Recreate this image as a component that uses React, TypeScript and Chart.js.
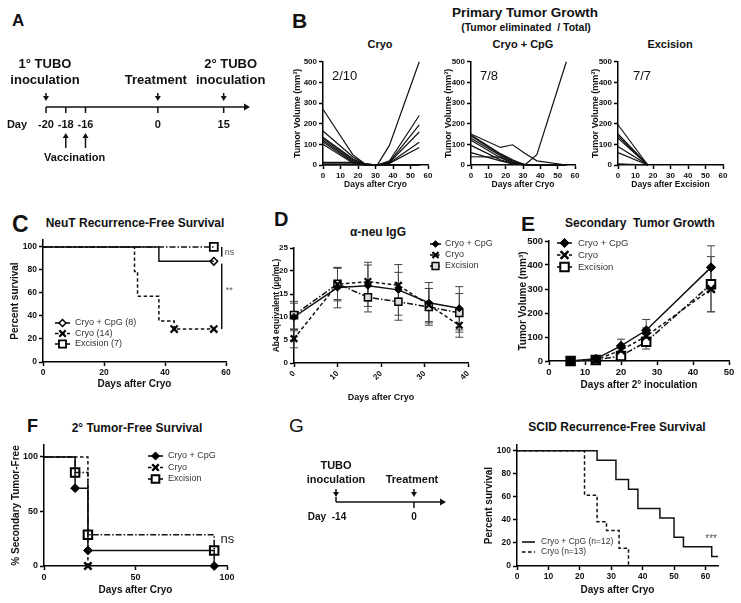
import React, { useEffect, useRef } from 'react';
import { Chart, registerables } from 'chart.js';
Chart.register(...registerables);

const FONT = '"Liberation Sans", Arial, Helvetica, sans-serif';
Chart.defaults.font.family = FONT;
Chart.defaults.color = '#111';

// ================= DATA =================
// A: schematic timeline (category axis, blank slots keep the schematic spacing)
const A_AXIS_LABELS = ['-20', '', '', '-18', '', '', '-16', '', '', '', '', '', '', '', '', '', '', '0', '', '', '', '', '', '', '', '', '', '15', '', '', '', ''];
const A_INOC_DAYS = ['-20', '15'];
const A_INOC_TEXT = [['1° TUBO', 'inoculation'], ['2° TUBO', 'inoculation']];
const A_TREAT_DAY = '0';
const A_VACC_DAYS = ['-18', '-16'];

// B: primary tumor growth (individual mice)
const B_DAYS = [0, 17, 24, 31, 38, 55];
const B_CRYO = [
  [270, 50, 5, 0, 20, 240],
  [165, 40, 5, 0, 96, 500],
  [135, 30, 5, 0, 15, 195],
  [128, 25, 3, 0, 12, 160],
  [120, 20, 2, 0, 10, 110],
  [112, 15, 0, 0, 8, 85],
  [100, 10, 0, 0, 0, 0],
  [13, 13, 0, 0, 0, 0],
  [5, 5, 0, 0, 0, 0],
  [0, 0, 0, 0, 0, 0],
];
const B_CPG = [
  [150, 85, 98, 57, 20, 0],
  [145, 55, 25, 0, 50, 500],
  [140, 50, 20, 3, 0, 0],
  [130, 45, 15, 2, 0, 0],
  [120, 35, 10, 0, 0, 0],
  [95, 25, 8, 0, 0, 0],
  [60, 20, 5, 0, 0, 0],
  [40, 38, 10, 0, 0, 0],
];
const B_EXC_DAYS = [0, 17];
const B_EXC = [[195, 0], [150, 0], [140, 0], [130, 0], [90, 0], [60, 0], [5, 0]];
const B_TITLES = ['Cryo', 'Cryo + CpG', 'Excision'];
const B_RATIOS = ['2/10', '7/8', '7/7'];
const B_XTITLES = ['Days after Cryo', 'Days after Cryo', 'Days after Excision'];

// C: NeuT recurrence-free survival
const C_CPG_T = [0, 38, 56];
const C_CPG_S = [100, 87.5, 87.5];
const C_CPG_CENS = [56];
const C_CRYO_T = [0, 30, 31, 38, 43, 56];
const C_CRYO_S = [100, 78.6, 57.1, 35.7, 28.6, 28.6];
const C_CRYO_CENS = [43, 56];
const C_EXC_T = [0, 56];
const C_EXC_S = [100, 100];
const C_EXC_CENS = [56];
const C_LABELS = ['Cryo + CpG (8)', 'Cryo (14)', 'Excision (7)'];

// D: alpha-neu IgG
const D_DAYS = [0, 10, 17, 24, 31, 38];
const D_CPG = [10.0, 16.4, 16.8, 15.9, 13.1, 11.9];
const D_CPG_SEM = [3.0, 4.4, 4.5, 5.5, 4.4, 4.7];
const D_CRYO = [5.3, 17.1, 17.7, 16.9, 12.6, 8.2];
const D_CRYO_SEM = [2.0, 3.6, 4.2, 2.8, 3.6, 2.6];
const D_EXC = [10.4, 17.2, 14.3, 13.3, 12.2, 10.9];
const D_EXC_SEM = [3.0, 3.4, 3.2, 4.0, 4.0, 4.2];
const GROUP_LABELS = ['Cryo + CpG', 'Cryo', 'Excision'];

// E: secondary tumor growth
const E_DAYS = [6, 13, 20, 27, 45];
const E_CPG = [0, 9, 63, 128, 390];
const E_CPG_SEM = [0, 5, 28, 45, 90];
const E_CRYO = [0, 5, 45, 103, 300];
const E_CRYO_SEM = [0, 4, 15, 35, 95];
const E_EXC = [0, 4, 21, 80, 320];
const E_EXC_SEM = [0, 3, 10, 30, 115];

// F: 2° tumor-free survival
const F_CPG_T = [0, 17, 24, 93];
const F_CPG_S = [100, 71.4, 14.3, 0];
const F_CPG_MARKS = [17, 24, 93];
const F_CRYO_T = [0, 24];
const F_CRYO_S = [100, 0];
const F_CRYO_MARKS = [24];
const F_EXC_T = [0, 17, 24, 93];
const F_EXC_S = [100, 85.7, 28.6, 14.3];
const F_EXC_MARKS = [17, 24, 93];

// G: SCID timeline + survival
const G_TL_DAYS = [-14, 0];
const G_TL_TEXT = [['TUBO', 'inoculation'], ['Treatment']];
const G_CPG_T = [0, 25.5, 31.5, 35.5, 38.5, 45.5, 50, 53, 62, 64];
const G_CPG_S = [100, 91.7, 75, 66.7, 50, 41.7, 25, 16.7, 8.3, 8.3];
const G_CRYO_T = [0, 21.5, 25.5, 28.5, 32.5, 35.5];
const G_CRYO_S = [100, 61.5, 38.5, 30.8, 15.4, 0];
const G_LABELS = ['Cryo + CpG (n=12)', 'Cryo (n=13)'];

// ================= HELPERS =================
const DASH = { solid: [] as number[], dash: [3.5, 2.5], dashDot: [6, 2, 1.5, 2] };

const pts = (xs: number[], ys: number[]) => xs.map((x, i) => ({ x, y: ys[i] }));
const survAt = (T: number[], S: number[], t: number) => {
  let v = S[0];
  T.forEach((tt, i) => { if (tt <= t) v = S[i]; });
  return v;
};

function linAxis(o: any) {
  return {
    type: 'linear',
    min: o.min,
    max: o.max,
    border: { display: true, color: '#000', width: 1.5 },
    grid: { display: true, drawOnChartArea: false, drawTicks: true, tickLength: 4, tickWidth: 1.5, tickColor: '#000' },
    ticks: {
      stepSize: o.step,
      includeBounds: false,
      autoSkip: false,
      color: '#111',
      padding: o.tickPad ?? 2,
      font: { family: FONT, size: o.tickSize, weight: 'bold' },
      maxRotation: o.rot ?? 0,
      minRotation: o.rot ?? 0,
    },
    title: {
      display: true,
      text: o.title,
      color: '#111',
      padding: 0,
      font: { family: FONT, size: o.titleSize, weight: o.titleWeight ?? 'bold' },
    },
  };
}

function drawMark(ctx: any, style: string, x: number, y: number, r: number, fill: string, lw: number) {
  ctx.save();
  ctx.setLineDash([]);
  ctx.lineWidth = lw;
  ctx.strokeStyle = '#000';
  ctx.fillStyle = fill;
  ctx.beginPath();
  if (style === 'rectRot') {
    ctx.moveTo(x - r, y); ctx.lineTo(x, y - r); ctx.lineTo(x + r, y); ctx.lineTo(x, y + r); ctx.closePath();
    ctx.fill(); ctx.stroke();
  } else if (style === 'rect') {
    const s = r * Math.SQRT1_2;
    ctx.rect(x - s, y - s, 2 * s, 2 * s);
    ctx.fill(); ctx.stroke();
  } else if (style === 'crossRot') {
    const s = r * Math.SQRT1_2;
    ctx.moveTo(x - s, y - s); ctx.lineTo(x + s, y + s); ctx.moveTo(x + s, y - s); ctx.lineTo(x - s, y + s);
    ctx.stroke();
  }
  ctx.restore();
}

function drawLegend(ctx: any, box: any, items: any[], lg: any) {
  items.forEach((it, i) => {
    const x0 = lg.x - box.x;
    const y = lg.y - box.y + i * lg.dy;
    ctx.save();
    ctx.strokeStyle = '#000';
    ctx.lineWidth = 1.5;
    ctx.setLineDash(it.dash);
    ctx.beginPath();
    ctx.moveTo(x0, y); ctx.lineTo(x0 + lg.len, y);
    ctx.stroke();
    ctx.restore();
    if (it.marker) drawMark(ctx, it.marker, x0 + lg.len / 2, y, it.r, it.fill, it.bw);
    ctx.save();
    ctx.fillStyle = '#333';
    ctx.font = `${lg.size}px ${FONT}`;
    ctx.textBaseline = 'middle';
    ctx.textAlign = 'left';
    ctx.fillText(it.label, lg.tx - box.x, y);
    ctx.restore();
  });
}

function drawText(ctx: any, text: string, x: number, y: number, font: string, align = 'center', color = '#111') {
  ctx.save();
  ctx.font = font;
  ctx.fillStyle = color;
  ctx.textAlign = align;
  ctx.textBaseline = 'middle';
  ctx.fillText(text, x, y);
  ctx.restore();
}

function vArrow(ctx: any, x: number, yFrom: number, yTo: number) {
  const dir = yTo > yFrom ? 1 : -1;
  ctx.save();
  ctx.strokeStyle = '#111';
  ctx.fillStyle = '#111';
  ctx.lineWidth = 1.5;
  ctx.beginPath();
  ctx.moveTo(x, yFrom); ctx.lineTo(x, yTo - dir * 4);
  ctx.stroke();
  ctx.beginPath();
  ctx.moveTo(x - 3, yTo - dir * 5); ctx.lineTo(x + 3, yTo - dir * 5); ctx.lineTo(x, yTo); ctx.closePath();
  ctx.fill();
  ctx.restore();
}

function hAxisArrow(ctx: any, x1: number, x2: number, y: number) {
  ctx.save();
  ctx.strokeStyle = '#111';
  ctx.fillStyle = '#111';
  ctx.lineWidth = 1.5;
  ctx.beginPath();
  ctx.moveTo(x1, y); ctx.lineTo(x2 - 4, y);
  ctx.stroke();
  ctx.beginPath();
  ctx.moveTo(x2 - 6, y - 3.5); ctx.lineTo(x2, y); ctx.lineTo(x2 - 6, y + 3.5); ctx.closePath();
  ctx.fill();
  ctx.restore();
}

function vLine(ctx: any, x: number, y1: number, y2: number, w = 1.5, color = '#111') {
  ctx.save();
  ctx.strokeStyle = color;
  ctx.lineWidth = w;
  ctx.beginPath();
  ctx.moveTo(x, y1); ctx.lineTo(x, y2);
  ctx.stroke();
  ctx.restore();
}

const errPlugin = {
  id: 'errbars',
  beforeDatasetsDraw(chart: any) {
    const { ctx } = chart;
    const xs = chart.scales.x, ys = chart.scales.y;
    chart.data.datasets.forEach((ds: any) => {
      if (!ds.errors) return;
      ds.data.forEach((p: any, i: number) => {
        const e = ds.errors[i];
        if (!e) return;
        const x = xs.getPixelForValue(p.x);
        const y1 = ys.getPixelForValue(Math.max(ys.min, p.y - e));
        const y2 = ys.getPixelForValue(p.y + e);
        ctx.save();
        ctx.strokeStyle = '#444';
        ctx.lineWidth = 1;
        ctx.beginPath();
        ctx.moveTo(x, y1); ctx.lineTo(x, y2);
        ctx.moveTo(x - 4, y1); ctx.lineTo(x + 4, y1);
        ctx.moveTo(x - 4, y2); ctx.lineTo(x + 4, y2);
        ctx.stroke();
        ctx.restore();
      });
    });
  },
};

// marker style per group: r = Chart.js point radius
function groupStyle(kind: string, r: number, fill?: string, bw?: number) {
  if (kind === 'cpg') return { dash: DASH.solid, marker: 'rectRot', r, fill: fill ?? '#000', bw: bw ?? 1 };
  if (kind === 'cryo') return { dash: DASH.dash, marker: 'crossRot', r, fill: '#000', bw: bw ?? 2.5 };
  return { dash: DASH.dashDot, marker: 'rect', r, fill: fill ?? '#fff', bw: bw ?? 2 };
}

function lineDataset(label: string, data: any[], st: any, extra: any = {}) {
  return {
    label,
    data,
    borderColor: '#111',
    borderWidth: 1.5,
    borderDash: st.dash,
    pointStyle: st.marker,
    pointRadius: st.r,
    pointBackgroundColor: st.fill,
    pointBorderColor: '#000',
    pointBorderWidth: st.bw,
    fill: false,
    tension: 0,
    clip: false,
    ...extra,
  };
}

function survDatasets(label: string, T: number[], S: number[], marks: number[], st: any) {
  return [
    lineDataset(label, pts(T, S), st, { stepped: 'before', pointRadius: 0 }),
    {
      label: label + ' marks',
      data: marks.map((t) => ({ x: t, y: survAt(T, S, t) })),
      showLine: false,
      pointStyle: st.marker,
      pointRadius: st.r,
      pointBackgroundColor: st.fill,
      pointBorderColor: '#000',
      pointBorderWidth: st.bw,
      clip: false,
    },
  ];
}

// ================= CHART PANEL =================
function ChartPanel({ box, area, build }: any) {
  const ref = useRef<HTMLCanvasElement>(null);
  useEffect(() => {
    const cfg = build(box);
    const o = cfg.options;
    o.animation = false;
    o.responsive = false;
    o.maintainAspectRatio = false;
    o.events = [];
    o.plugins = { legend: { display: false }, tooltip: { enabled: false }, title: { display: false }, ...(o.plugins || {}) };
    const padRight = box.x + box.w - area.r;
    const padTop = area.t - box.y;
    const yW = area.l - box.x;
    const xH = box.y + box.h - area.b;
    o.layout = { autoPadding: false, padding: { left: 0, right: padRight, top: padTop, bottom: 0 } };
    if (o.scales.x.display !== false) o.scales.x.afterFit = (s: any) => { s.height = xH; };
    else o.layout.padding.bottom = xH;
    if (o.scales.y.display !== false) o.scales.y.afterFit = (s: any) => { s.width = yW; };
    else o.layout.padding.left = yW;
    const chart = new Chart(ref.current as any, cfg);
    return () => chart.destroy();
  }, []);
  return (
    <canvas
      ref={ref}
      width={box.w}
      height={box.h}
      style={{ position: 'absolute', left: box.x, top: box.y, width: box.w, height: box.h }}
    />
  );
}

function Label({ x, cy, text, size, weight = 'bold', align = 'center', color = '#111' }: any) {
  const w = 400;
  const left = align === 'center' ? x - w / 2 : x;
  return (
    <div
      style={{
        position: 'absolute',
        left,
        top: cy - size * 0.49,
        width: align === 'center' ? w : undefined,
        textAlign: align,
        font: `${weight} ${size}px ${FONT}`,
        lineHeight: `${size}px`,
        whiteSpace: 'pre',
        color,
      }}
    >
      {text}
    </div>
  );
}

// ================= BUILDERS =================
function buildA(box: any) {
  return {
    type: 'line',
    data: { labels: A_AXIS_LABELS, datasets: [] },
    options: { scales: { x: { type: 'category', display: false, offset: false }, y: { display: false, min: 0, max: 1 } } },
    plugins: [{
      id: 'tlA',
      afterDraw(chart: any) {
        const ctx = chart.ctx;
        const xs = chart.scales.x;
        const ca = chart.chartArea;
        const y = ca.bottom;
        const px = (d: string) => xs.getPixelForValue(A_AXIS_LABELS.indexOf(d));
        hAxisArrow(ctx, px(A_AXIS_LABELS[0]), ca.right, y);
        const tickFont = `bold 11px ${FONT}`;
        drawText(ctx, 'Day', px(A_AXIS_LABELS[0]) - 29, y + 18, tickFont);
        A_AXIS_LABELS.forEach((lab, i) => {
          if (!lab) return;
          const x = xs.getPixelForValue(i);
          vLine(ctx, x, y, y + 6);
          drawText(ctx, lab, x, y + 18, tickFont);
        });
        const big = `bold 13px ${FONT}`;
        A_INOC_DAYS.forEach((d, i) => {
          const x = px(d);
          drawText(ctx, A_INOC_TEXT[i][0], x + (i ? 7 : -1), y - 43, big);
          drawText(ctx, A_INOC_TEXT[i][1], x + (i ? 7 : -1), y - 27, big);
          vArrow(ctx, x, y - 14, y - 6);
        });
        const tx = px(A_TREAT_DAY);
        drawText(ctx, 'Treatment', tx - 2, y - 27, big);
        vArrow(ctx, tx, y - 14, y - 6);
        A_VACC_DAYS.forEach((d) => vArrow(ctx, px(d), y + 41, y + 26));
        const vx = (px(A_VACC_DAYS[0]) + px(A_VACC_DAYS[1])) / 2;
        drawText(ctx, 'Vaccination', vx - 1, y + 51, `bold 11px ${FONT}`);
      },
    }],
  };
}

function buildB(idx: number) {
  return (box: any) => {
    const days = idx === 2 ? B_EXC_DAYS : B_DAYS;
    const series = idx === 0 ? B_CRYO : idx === 1 ? B_CPG : B_EXC;
    return {
      type: 'line',
      data: {
        datasets: series.map((s, i) => ({
          label: `mouse ${i + 1}`,
          data: pts(days, s),
          borderColor: '#111',
          borderWidth: 1.2,
          pointRadius: 0,
          fill: false,
          tension: 0,
          clip: false,
        })),
      },
      options: {
        scales: {
          x: linAxis({ min: 0, max: 60, step: 10, title: B_XTITLES[idx], titleSize: 8.5, tickSize: 8 }),
          y: linAxis({ min: 0, max: 500, step: 100, title: 'Tumor Volume (mm³)', titleSize: 9, tickSize: 8 }),
        },
      },
      plugins: [{
        id: 'ratio',
        afterDraw(chart: any) {
          const ca = chart.chartArea;
          drawText(chart.ctx, B_RATIOS[idx], ca.left + (idx === 2 ? 15 : 9), ca.top + 15, `13px ${FONT}`, 'left');
        },
      }],
    };
  };
}

function buildC(box: any) {
  const sC = groupStyle('cpg', 3.8, '#fff', 1.5);
  const sR = groupStyle('cryo', 5, undefined, 2.2);
  const sE = groupStyle('exc', 5.6, '#fff', 1.8);
  return {
    type: 'line',
    data: {
      datasets: [
        ...survDatasets(C_LABELS[0], C_CPG_T, C_CPG_S, C_CPG_CENS, sC),
        ...survDatasets(C_LABELS[1], C_CRYO_T, C_CRYO_S, C_CRYO_CENS, sR),
        ...survDatasets(C_LABELS[2], C_EXC_T, C_EXC_S, C_EXC_CENS, sE),
      ],
    },
    options: {
      scales: {
        x: linAxis({ min: 0, max: 60, step: 20, title: 'Days after Cryo', titleSize: 10, tickSize: 8.5 }),
        y: linAxis({ min: 0, max: 106, step: 20, title: 'Percent survival', titleSize: 10, tickSize: 8.5 }),
      },
    },
    plugins: [{
      id: 'cextra',
      afterDraw(chart: any) {
        const ctx = chart.ctx;
        const xs = chart.scales.x, ys = chart.scales.y;
        const bx = xs.getPixelForValue(58.6);
        vLine(ctx, bx, ys.getPixelForValue(100), ys.getPixelForValue(91.5), 1.5);
        vLine(ctx, bx, ys.getPixelForValue(85.5), ys.getPixelForValue(28.6), 1.5);
        drawText(ctx, 'ns', bx + 3, ys.getPixelForValue(95.5), `9px ${FONT}`, 'left', '#555');
        drawText(ctx, '**', bx + 4, ys.getPixelForValue(62), `9px ${FONT}`, 'left', '#555');
        drawLegend(ctx, box, [
          { label: C_LABELS[0], ...sC, r: 3.5 },
          { label: C_LABELS[1], ...sR, r: 4.5 },
          { label: C_LABELS[2], ...sE, r: 5 },
        ], { x: 55, y: 323, dy: 10.5, len: 15, tx: 75, size: 9 });
      },
    }],
  };
}

function buildD(box: any) {
  const sC = groupStyle('cpg', 3.6);
  const sR = groupStyle('cryo', 4.6, undefined, 2.2);
  const sE = groupStyle('exc', 5, '#ddd', 1.5);
  return {
    type: 'line',
    data: {
      datasets: [
        lineDataset(GROUP_LABELS[0], pts(D_DAYS, D_CPG), sC, { errors: D_CPG_SEM }),
        lineDataset(GROUP_LABELS[1], pts(D_DAYS, D_CRYO), sR, { errors: D_CRYO_SEM }),
        lineDataset(GROUP_LABELS[2], pts(D_DAYS, D_EXC), sE, { errors: D_EXC_SEM }),
      ],
    },
    options: {
      scales: {
        x: linAxis({ min: 0, max: 40, step: 10, title: 'Days after Cryo', titleSize: 9, tickSize: 8, rot: 45 }),
        y: linAxis({ min: 0, max: 25, step: 5, title: 'Ab4 equivalent (µg/mL)', titleSize: 8.5, tickSize: 8 }),
      },
    },
    plugins: [errPlugin, {
      id: 'dleg',
      afterDraw(chart: any) {
        drawLegend(chart.ctx, box, [
          { label: GROUP_LABELS[0], ...sC, r: 3.3 },
          { label: GROUP_LABELS[1], ...sR, r: 4.3 },
          { label: GROUP_LABELS[2], ...sE, r: 4.8 },
        ], { x: 430, y: 244, dy: 11, len: 11, tx: 445, size: 9 });
      },
    }],
  };
}

function buildE(box: any) {
  const sC = groupStyle('cpg', 4.6);
  const sR = groupStyle('cryo', 5.5, undefined, 2.4);
  const sE = groupStyle('exc', 6, '#fff', 2);
  return {
    type: 'line',
    data: {
      datasets: [
        lineDataset(GROUP_LABELS[0], pts(E_DAYS, E_CPG), sC, { errors: E_CPG_SEM }),
        lineDataset(GROUP_LABELS[1], pts(E_DAYS, E_CRYO), sR, { errors: E_CRYO_SEM }),
        lineDataset(GROUP_LABELS[2], pts(E_DAYS, E_EXC), sE, { errors: E_EXC_SEM }),
      ],
    },
    options: {
      scales: {
        x: linAxis({ min: 0, max: 50, step: 10, title: 'Days after 2° inoculation', titleSize: 10, tickSize: 9.5 }),
        y: linAxis({ min: 0, max: 500, step: 100, title: 'Tumor Volume (mm³)', titleSize: 10, tickSize: 9.5 }),
      },
    },
    plugins: [errPlugin, {
      id: 'eleg',
      afterDraw(chart: any) {
        drawLegend(chart.ctx, box, [
          { label: GROUP_LABELS[0], ...sC },
          { label: GROUP_LABELS[1], ...sR },
          { label: GROUP_LABELS[2], ...sE },
        ], { x: 557, y: 243, dy: 12, len: 15, tx: 578, size: 9.5 });
      },
    }],
  };
}

function buildF(box: any) {
  const sC = groupStyle('cpg', 4.4);
  const sR = groupStyle('cryo', 5.2, undefined, 2.4);
  const sE = groupStyle('exc', 6, '#fff', 2);
  return {
    type: 'line',
    data: {
      datasets: [
        ...survDatasets(GROUP_LABELS[0], F_CPG_T, F_CPG_S, F_CPG_MARKS, sC),
        ...survDatasets(GROUP_LABELS[1], F_CRYO_T, F_CRYO_S, F_CRYO_MARKS, sR),
        ...survDatasets(GROUP_LABELS[2], F_EXC_T, F_EXC_S, F_EXC_MARKS, sE),
      ],
    },
    options: {
      scales: {
        x: linAxis({ min: 0, max: 100, step: 50, title: 'Days after Cryo', titleSize: 10, tickSize: 9 }),
        y: linAxis({ min: 0, max: 111, step: 50, title: '% Secondary Tumor-Free', titleSize: 10, tickSize: 9 }),
      },
    },
    plugins: [{
      id: 'fextra',
      afterDraw(chart: any) {
        const ctx = chart.ctx;
        const xs = chart.scales.x, ys = chart.scales.y;
        drawText(ctx, 'ns', xs.getPixelForValue(96.5), ys.getPixelForValue(24.5), `13px ${FONT}`, 'left', '#222');
        drawLegend(ctx, box, [
          { label: GROUP_LABELS[0], ...sC, r: 4 },
          { label: GROUP_LABELS[1], ...sR, r: 4.6 },
          { label: GROUP_LABELS[2], ...sE, r: 5.4 },
        ], { x: 148, y: 456, dy: 11.5, len: 15, tx: 168, size: 9 });
      },
    }],
  };
}

function buildGTimeline(box: any) {
  return {
    type: 'line',
    data: { datasets: [] },
    options: { scales: { x: { type: 'linear', display: false, min: -14, max: 5.75 }, y: { display: false, min: 0, max: 1 } } },
    plugins: [{
      id: 'tlG',
      afterDraw(chart: any) {
        const ctx = chart.ctx;
        const xs = chart.scales.x;
        const ca = chart.chartArea;
        const y = ca.bottom;
        const x0 = xs.getPixelForValue(G_TL_DAYS[0]);
        const x1 = xs.getPixelForValue(G_TL_DAYS[1]);
        hAxisArrow(ctx, x0, ca.right, y);
        vLine(ctx, x0, y - 5, y);
        vLine(ctx, x1, y, y + 6);
        const tf = `bold 10px ${FONT}`;
        drawText(ctx, 'Day', x0 - 19, y + 15, tf);
        drawText(ctx, String(G_TL_DAYS[0]), x0 + 3, y + 15, tf);
        drawText(ctx, String(G_TL_DAYS[1]), x1, y + 15, tf);
        const big = `bold 11px ${FONT}`;
        drawText(ctx, G_TL_TEXT[0][0], x0, y - 36, big);
        drawText(ctx, G_TL_TEXT[0][1], x0, y - 22, big);
        drawText(ctx, G_TL_TEXT[1][0], x1 - 2, y - 22, big);
        vArrow(ctx, x0, y - 13, y - 5);
        vArrow(ctx, x1, y - 13, y - 5);
      },
    }],
  };
}

function buildG(box: any) {
  const sC = { dash: DASH.solid, marker: null, r: 0, fill: '#000', bw: 1 };
  const sR = { dash: DASH.dash, marker: null, r: 0, fill: '#000', bw: 1 };
  return {
    type: 'line',
    data: {
      datasets: [
        lineDataset(G_LABELS[0], pts(G_CPG_T, G_CPG_S), sC, { stepped: 'before', pointRadius: 0 }),
        lineDataset(G_LABELS[1], pts(G_CRYO_T, G_CRYO_S), sR, { stepped: 'before', pointRadius: 0 }),
      ],
    },
    options: {
      scales: {
        x: linAxis({ min: 0, max: 64, step: 10, title: 'Days after Cryo', titleSize: 10, tickSize: 8.5 }),
        y: linAxis({ min: 0, max: 105, step: 20, title: 'Percent survival', titleSize: 10, tickSize: 8.5 }),
      },
    },
    plugins: [{
      id: 'gextra',
      afterDraw(chart: any) {
        const ctx = chart.ctx;
        const xs = chart.scales.x, ys = chart.scales.y;
        drawText(ctx, '***', xs.getPixelForValue(61.8), ys.getPixelForValue(23.5), `10px ${FONT}`, 'center', '#555');
        drawLegend(ctx, box, [
          { label: G_LABELS[0], ...sC },
          { label: G_LABELS[1], ...sR },
        ], { x: 522, y: 542, dy: 10, len: 13, tx: 541, size: 8.5 });
      },
    }],
  };
}

// ================= APP =================
export default function App() {
  return (
    <div style={{ position: 'fixed', left: 0, top: 0, width: 741, height: 603, background: '#fff', overflow: 'hidden' }}>
      {/* Panel letters */}
      <Label x={12} cy={20} text="A" size={17} align="left" />
      <Label x={292} cy={20} text="B" size={21} align="left" />
      <Label x={12} cy={224} text="C" size={23} align="left" />
      <Label x={274} cy={219} text="D" size={20} align="left" />
      <Label x={521} cy={223} text="E" size={21} align="left" />
      <Label x={27} cy={426} text="F" size={18} align="left" />
      <Label x={289} cy={425} text="G" size={19} weight="normal" align="left" />

      {/* Titles */}
      <Label x={525} cy={13} text="Primary Tumor Growth" size={13.5} />
      <Label x={526} cy={27} text="(Tumor eliminated  / Total)" size={10.5} />
      <Label x={380} cy={44} text={B_TITLES[0]} size={11} />
      <Label x={523} cy={44} text={B_TITLES[1]} size={11} />
      <Label x={670} cy={44} text={B_TITLES[2]} size={11} />
      <Label x={135} cy={223} text="NeuT Recurrence-Free Survival" size={12} />
      <Label x={378} cy={232} text="α-neu IgG" size={12} />
      <Label x={640} cy={223} text="Secondary  Tumor Growth" size={12} />
      <Label x={137} cy={428} text="2° Tumor-Free Survival" size={12} />
      <Label x={617} cy={427} text="SCID Recurrence-Free Survival" size={12} />

      <ChartPanel box={{ x: 0, y: 0, w: 290, h: 180 }} area={{ l: 46, t: 60, r: 250, b: 107 }} build={buildA} />
      <ChartPanel box={{ x: 292, y: 55, w: 146, h: 135 }} area={{ l: 323, t: 61, r: 428, b: 165 }} build={buildB(0)} />
      <ChartPanel box={{ x: 443, y: 55, w: 142, h: 135 }} area={{ l: 471, t: 61, r: 575, b: 165 }} build={buildB(1)} />
      <ChartPanel box={{ x: 590, y: 55, w: 143, h: 135 }} area={{ l: 618, t: 61, r: 723, b: 165 }} build={buildB(2)} />
      <ChartPanel box={{ x: 9, y: 232, w: 231, h: 158 }} area={{ l: 43, t: 240, r: 226, b: 362 }} build={buildC} />
      <ChartPanel box={{ x: 272, y: 240, w: 228, h: 163 }} area={{ l: 294, t: 248, r: 468, b: 363 }} build={buildD} />
      <ChartPanel box={{ x: 517, y: 233, w: 220, h: 158 }} area={{ l: 549, t: 241, r: 729, b: 361 }} build={buildE} />
      <ChartPanel box={{ x: 10, y: 437, w: 230, h: 159 }} area={{ l: 44, t: 445, r: 227, b: 566 }} build={buildF} />
      <ChartPanel box={{ x: 290, y: 440, w: 170, h: 100 }} area={{ l: 336, t: 470, r: 446, b: 502 }} build={buildGTimeline} />
      <ChartPanel box={{ x: 483, y: 437, w: 247, h: 159 }} area={{ l: 517, t: 445, r: 718, b: 566 }} build={buildG} />
    </div>
  );
}
